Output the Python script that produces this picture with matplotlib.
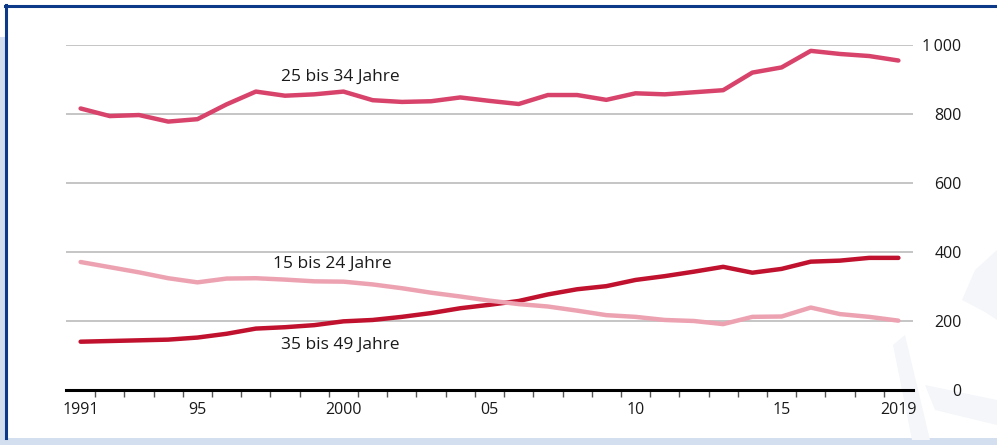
import matplotlib
matplotlib.use("Agg")
import matplotlib.pyplot as plt
from matplotlib.patches import Rectangle, Polygon
from matplotlib.lines import Line2D

years = list(range(1991, 2020))
age_25_34 = [816, 794, 797, 778, 785, 828, 865, 853, 857, 865, 840, 835, 837, 848, 838,
             829, 855, 855, 841, 860, 857, 863, 869, 920, 935, 983, 974, 968, 955]
age_15_24 = [371, 356, 341, 324, 312, 323, 324, 320, 315, 314, 306, 295, 282, 271, 259,
             249, 242, 230, 217, 212, 203, 200, 191, 212, 213, 239, 220, 212, 201]
age_35_49 = [140, 142, 144, 146, 152, 163, 178, 182, 188, 199, 203, 212, 223, 237, 247,
             258, 277, 292, 301, 319, 330, 343, 357, 340, 351, 372, 375, 383, 383]

xtick_pos = [1991, 1995, 2000, 2005, 2010, 2015, 2019]
xtick_lab = ["1991", "95", "2000", "05", "10", "15", "2019"]
ytick_pos = [0, 200, 400, 600, 800, 1000]
ytick_lab = ["0", "200", "400", "600", "800", "1\u2009000"]

c_25 = "#d8436b"
c_35 = "#c0112e"
c_15 = "#eda2b2"

plt.rcParams['font.family'] = ['Open Sans', 'DejaVu Sans']

W, H = 997, 445
fig = plt.figure(figsize=(W / 100, H / 100), dpi=100)
fig.patch.set_facecolor("white")

# decorative frame
fig.add_artist(Rectangle((0, 0), 5 / W, (H - 37) / H, transform=fig.transFigure,
                         color="#d3deee", lw=0, zorder=0))
fig.add_artist(Rectangle((0, 0), 1, 7 / H, transform=fig.transFigure,
                         color="#d3deee", lw=0, zorder=0))
# faint watermark shapes
def px(pts):
    return [(x / W, 1 - y / H) for x, y in pts]
wm = "#f4f6fa"
fig.add_artist(Polygon(px([(962, 300), (975, 270), (997, 250), (997, 320), (985, 312)]),
                       closed=True, transform=fig.transFigure, color=wm, lw=0, zorder=0))
fig.add_artist(Polygon(px([(893, 345), (905, 335), (930, 440), (912, 440)]),
                       closed=True, transform=fig.transFigure, color=wm, lw=0, zorder=0))
fig.add_artist(Polygon(px([(925, 385), (997, 400), (997, 425), (935, 410)]),
                       closed=True, transform=fig.transFigure, color=wm, lw=0, zorder=0))
fig.add_artist(Line2D([6 / W, 6 / W], [1 - 5 / H, 7 / H], transform=fig.transFigure,
                      color="#0d3a88", lw=2.2, zorder=1))
fig.add_artist(Line2D([5 / W, 1], [1 - 6 / H, 1 - 6 / H], transform=fig.transFigure,
                      color="#0d3a88", lw=2.2, zorder=1))

left, right, top, bottom = 66, 913, 45, 390
ax = fig.add_axes([left / W, 1 - bottom / H, (right - left) / W, (bottom - top) / H])
ax.set_facecolor("none")
ax.set_xlim(1990.5, 2019.5)
ax.set_ylim(0, 1000)

for v in ytick_pos[1:]:
    ax.axhline(v, color="#c0c0c0", lw=1.3, zorder=1)

ax.plot(years, age_35_49, color=c_35, lw=3.2, solid_capstyle="round", zorder=3)
ax.plot(years, age_15_24, color=c_15, lw=3.2, solid_capstyle="round", zorder=4)
ax.plot(years, age_25_34, color=c_25, lw=3.2, solid_capstyle="round", zorder=3)

for s in ["top", "left", "right"]:
    ax.spines[s].set_visible(False)
ax.spines["bottom"].set_linewidth(2.2)
ax.spines["bottom"].set_color("black")
ax.spines["bottom"].set_zorder(5)

ax.set_xticks(xtick_pos)
ax.set_xticklabels(xtick_lab, fontsize=11.5, color="#1a1a1a")
ax.tick_params(axis="x", which="major", length=0, pad=9)
ax.set_xticks([y + 0.5 for y in years[:-1]], minor=True)
ax.tick_params(axis="x", which="minor", length=5, width=1, color="#555555", direction="out")

ax.yaxis.tick_right()
ax.set_yticks(ytick_pos)
ax.set_yticklabels(ytick_lab, fontsize=11.5, color="#1a1a1a")
ax.tick_params(axis="y", length=0, pad=35)
for lab in ax.get_yticklabels():
    lab.set_horizontalalignment("right")

def label(x_px, y_px, s):
    fig.text(x_px / W, 1 - y_px / H, s, ha="center", va="center", fontsize=12.5, color="#1a1a1a")

label(340, 77, "25 bis 34 Jahre")
label(332, 264, "15 bis 24 Jahre")
label(340, 345, "35 bis 49 Jahre")

fig.savefig("out.png", dpi=100)
